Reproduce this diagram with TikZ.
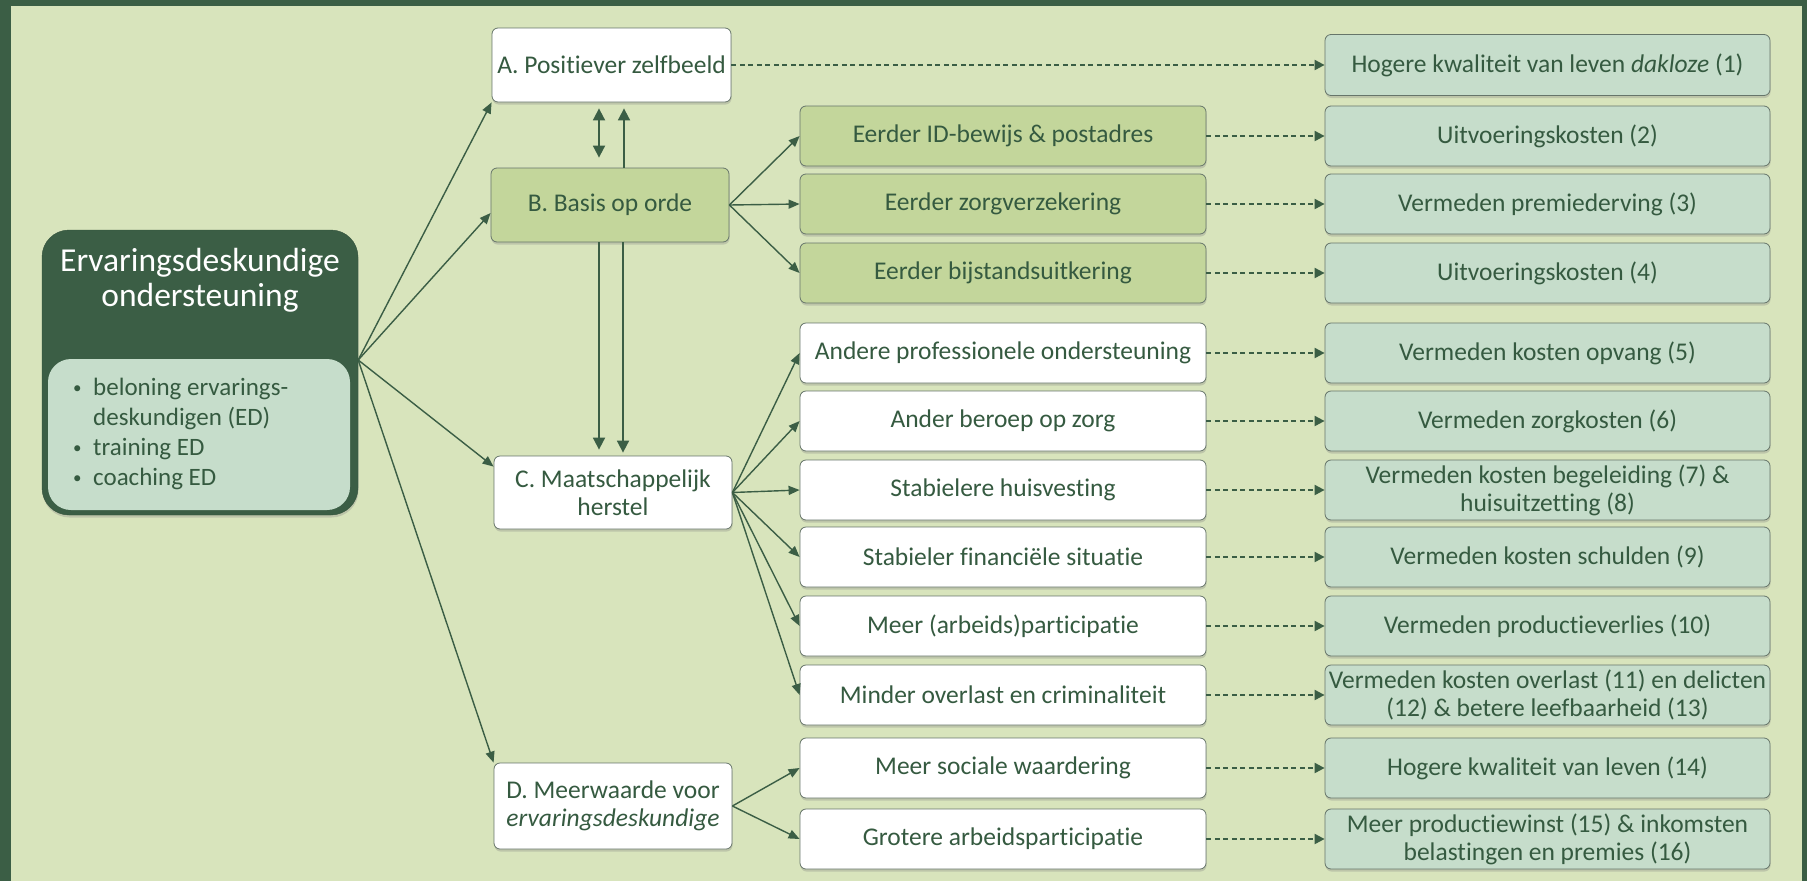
\documentclass[tikz,border=0pt]{standalone}
\usepackage{fontspec}
\setmainfont[RawFeature={-liga;-clig;-calt;-dlig}]{Carlito}
\usetikzlibrary{arrows.meta,calc,shadows}
\definecolor{dk}{HTML}{3B5E45}
\definecolor{bg}{HTML}{D8E4BC}
\definecolor{mint}{HTML}{C6DDCB}
\definecolor{olive}{HTML}{C3D69B}
\definecolor{edge}{HTML}{66756A}
\definecolor{txt}{HTML}{355A40}
\newcommand{\bul}{\makebox[20pt][l]{\raisebox{2pt}{\fontsize{17}{17}\selectfont •}}}
\begin{document}
\begin{tikzpicture}[x=1pt,y=-1pt,
  box/.style={draw=edge, line width=0.8pt, rounded corners=6pt, text=txt,
    font=\fontsize{25.5}{28}\selectfont, align=center, inner sep=2pt,
    drop shadow={shadow xshift=0.5pt,shadow yshift=-2.5pt,opacity=0.3}},
  wbox/.style={box, fill=white},
  gbox/.style={box, fill=olive},
  rbox/.style={box, fill=mint},
  midbox/.style={minimum width=406pt, minimum height=60pt},
  resbox/.style={minimum width=445pt, minimum height=60pt},
  arr/.style={draw=dk, line width=1.4pt, -{Triangle[length=11pt,width=9pt]}},
  darr/.style={draw=dk, line width=2pt, dash pattern=on 5pt off 3.5pt, -{Triangle[length=10pt,width=10pt]}},
  varr/.style={draw=dk, line width=1.8pt, -{Triangle[length=12pt,width=12pt]}},
  vdarr/.style={draw=dk, line width=1.8pt, {Triangle[length=12pt,width=12pt]}-{Triangle[length=12pt,width=12pt]}}
]
\useasboundingbox (0,0) rectangle (1807,881);
\fill[dk] (0,0) rectangle (1807,881);
\fill[bg] (11,6) rectangle (1802,881);

% main box
\node[draw=dk!85!black, fill=dk, rounded corners=27pt, minimum width=316pt, minimum height=285pt, inner sep=0pt,
  drop shadow={shadow xshift=0.5pt,shadow yshift=-2.5pt,opacity=0.3}] (main) at (200,372.5) {};
\node[fill=mint, rounded corners=23pt, minimum width=302pt, minimum height=151pt, inner sep=0pt] (inner) at (199,434.5) {};
\node[text=white, font=\fontsize{33.5}{35}\selectfont, align=center, anchor=north, inner sep=0pt] (title) at (200,248) {Ervaringsdeskundige\\ondersteuning};
\node[text=txt, font=\fontsize{25}{30}\selectfont, align=left, anchor=north west, inner sep=0pt] (bullets) at (73,378)
  {\bul beloning ervarings-\\\hspace*{20pt}deskundigen (ED)\\\bul training ED\\\bul coaching ED};
\coordinate (orig) at ($(main.east)+(0,-12.5)$);

% column of A-D
\node[wbox, minimum width=239pt, minimum height=74pt] (A) at (611.5,65) {A. Positiever zelfbeeld};
\node[gbox, minimum width=238pt, minimum height=74pt] (B) at (610,205) {B. Basis op orde};
\node[wbox, minimum width=238pt, minimum height=73pt] (C) at (613,492.5) {C. Maatschappelijk\\herstel};
\node[wbox, minimum width=238pt, minimum height=86pt] (D) at (613,806) {D. Meerwaarde voor\\\textit{ervaringsdeskundige}};

% middle column
\node[gbox, midbox] (m1) at (1003,136) {Eerder ID-bewijs \& postadres};
\node[gbox, midbox] (m2) at (1003,204) {Eerder zorgverzekering};
\node[gbox, midbox] (m3) at (1003,273) {Eerder bijstandsuitkering};
\node[wbox, midbox] (m4) at (1003,353) {Andere professionele ondersteuning};
\node[wbox, midbox] (m5) at (1003,421) {Ander beroep op zorg};
\node[wbox, midbox] (m6) at (1003,490) {Stabielere huisvesting};
\node[wbox, midbox] (m7) at (1003,557) {Stabieler financiële situatie};
\node[wbox, midbox] (m8) at (1003,626) {Meer (arbeids)participatie};
\node[wbox, midbox] (m9) at (1003,695) {Minder overlast en criminaliteit};
\node[wbox, midbox] (m10) at (1003,768) {Meer sociale waardering};
\node[wbox, midbox] (m11) at (1003,839) {Grotere arbeidsparticipatie};

% result column
\node[rbox, resbox, minimum height=61pt] (r0) at (1547.5,65) {Hogere kwaliteit van leven \textit{dakloze} (1)};
\node[rbox, resbox] (r1) at (1547.5,136) {Uitvoeringskosten (2)};
\node[rbox, resbox] (r2) at (1547.5,204) {Vermeden premiederving (3)};
\node[rbox, resbox] (r3) at (1547.5,273) {Uitvoeringskosten (4)};
\node[rbox, resbox] (r4) at (1547.5,353) {Vermeden kosten opvang (5)};
\node[rbox, resbox] (r5) at (1547.5,421) {Vermeden zorgkosten (6)};
\node[rbox, resbox] (r6) at (1547.5,490) {Vermeden kosten begeleiding (7) \&\\huisuitzetting (8)};
\node[rbox, resbox] (r7) at (1547.5,557) {Vermeden kosten schulden (9)};
\node[rbox, resbox] (r8) at (1547.5,626) {Vermeden productieverlies (10)};
\node[rbox, resbox] (r9) at (1547.5,695) {Vermeden kosten overlast (11) en delicten\\(12) \& betere leefbaarheid (13)};
\node[rbox, resbox] (r10) at (1547.5,768) {Hogere kwaliteit van leven (14)};
\node[rbox, resbox] (r11) at (1547.5,839) {Meer productiewinst (15) \& inkomsten\\belastingen en premies (16)};

% arrows from main box
\draw[arr] (orig) -- (A.south west);
\draw[arr] (orig) -- ($(B.west)+(0,8)$);
\draw[arr] (orig) -- ($(C.north west)+(0,11)$);
\draw[arr] (orig) -- (D.north west);

% vertical arrows
\draw[vdarr] ($(B.north |- A.south)+(-11,6)$) -- ($(B.north)+(-11,-10)$);
\draw[varr] ($(B.north)+(14,0)$) -- ($(B.north |- A.south)+(14,6)$);
\draw[varr] ($(B.south)+(-11,0)$) -- ($(B.south |- C.north)+(-11,-6)$);
\draw[varr] ($(B.south)+(13,0)$) -- ($(B.south |- C.north)+(13,-3)$);

% fans
\foreach \t in {m1,m2,m3} \draw[arr] (B.east) -- (\t.west);
\foreach \t in {m4,m5,m6,m7,m8,m9} \draw[arr] (C.east) -- (\t.west);
\foreach \t in {m10,m11} \draw[arr] (D.east) -- (\t.west);

% dashed
\draw[darr] (A.east) -- (r0.west);
\foreach \i in {1,...,11} \draw[darr] (m\i.east) -- (r\i.west);
\end{tikzpicture}
\end{document}
